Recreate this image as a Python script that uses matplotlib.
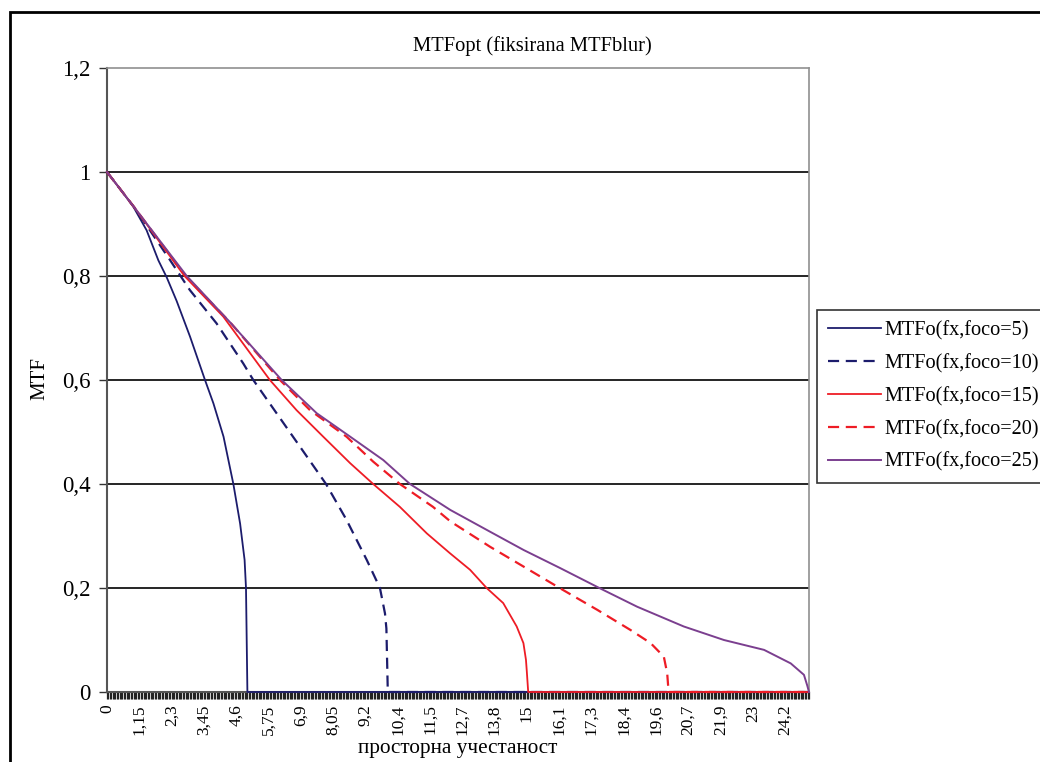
import matplotlib.pyplot as plt
from matplotlib.patches import Rectangle

plt.rcParams['font.family'] = ['Liberation Serif', 'DejaVu Serif']

# vrednosti procitane sa grafika (x = prostorna ucestanost)
x5 = [0, 0.5, 0.94, 1.41, 1.83, 2.13, 2.48, 2.96, 3.49, 3.79, 4.15, 4.5, 4.74, 4.9, 4.95, 5.0, 25]
y5 = [1, 0.965, 0.933, 0.888, 0.83, 0.797, 0.752, 0.683, 0.6, 0.555, 0.491, 0.4, 0.324, 0.254, 0.2, 0, 0]

x10 = [0, 1.0, 2.24, 2.95, 3.9, 4.85, 5.21, 6.04, 6.87, 7.8, 8.53, 9.25, 9.72, 9.9, 9.95, 10.0, 25]
y10 = [1, 0.93, 0.831, 0.773, 0.709, 0.632, 0.6, 0.536, 0.472, 0.4, 0.331, 0.254, 0.2, 0.151, 0.122, 0, 0]

x15 = [0, 1.0, 2.76, 4.14, 5.8, 6.75, 7.7, 8.66, 9.48, 10.43, 11.39, 12.21, 12.93, 13.52, 14.11,
       14.59, 14.83, 14.92, 14.95, 15.0, 25]
y15 = [1, 0.93, 0.8, 0.722, 0.6, 0.542, 0.491, 0.44, 0.4, 0.356, 0.305, 0.267, 0.235, 0.2, 0.171,
       0.126, 0.094, 0.062, 0.04, 0, 0]

x20 = [0, 1.0, 2.8, 4.4, 6.16, 7.23, 8.53, 9.48, 10.43, 11.61, 12.23, 13.65, 14.84, 16.15, 17.46,
       18.65, 19.36, 19.83, 19.95, 20.0, 25]
y20 = [1, 0.93, 0.8, 0.71, 0.6, 0.542, 0.491, 0.443, 0.4, 0.356, 0.328, 0.279, 0.241, 0.199, 0.158,
       0.119, 0.094, 0.068, 0.036, 0, 0]

x25 = [0, 1.0, 2.84, 4.4, 6.22, 7.47, 8.66, 9.84, 10.79, 12.23, 13.65, 14.84, 16.15, 17.57, 18.88,
       20.54, 21.97, 23.4, 24.35, 24.82, 24.94, 25]
y25 = [1, 0.93, 0.8, 0.71, 0.6, 0.536, 0.491, 0.446, 0.4, 0.35, 0.308, 0.273, 0.238, 0.199, 0.164,
       0.126, 0.1, 0.081, 0.055, 0.033, 0.012, 0.0]

xtick_labels = ['0', '1,15', '2,3', '3,45', '4,6', '5,75', '6,9', '8,05', '9,2', '10,4', '11,5',
                '12,7', '13,8', '15', '16,1', '17,3', '18,4', '19,6', '20,7', '21,9', '23', '24,2']
ytick_labels = ['0', '0,2', '0,4', '0,6', '0,8', '1', '1,2']

W, H = 1040, 762
fig = plt.figure(figsize=(W / 100, H / 100), dpi=100)
ax = fig.add_axes([107 / W, 1 - 692 / H, (809 - 107) / W, (692 - 68) / H])

navy = '#1c1c6c'
red = '#ee1c25'
purple = '#7b3f8f'

ax.plot(x5, y5, color=navy, lw=1.3, label='MTFo(fx,foco=5)', clip_on=False, zorder=3)
ax.plot(x10, y10, color=navy, lw=1.6, dashes=(5, 3), label='MTFo(fx,foco=10)', clip_on=False, zorder=3)
ax.plot(x15, y15, color=red, lw=1.3, label='MTFo(fx,foco=15)', clip_on=False, zorder=3)
ax.plot(x20, y20, color=red, lw=1.6, dashes=(5, 3), label='MTFo(fx,foco=20)', clip_on=False, zorder=3)
ax.plot(x25, y25, color=purple, lw=1.4, label='MTFo(fx,foco=25)', clip_on=False, zorder=3)

ax.set_xlim(0, 25)
ax.set_ylim(0, 1.2)

ax.set_yticks([0, 0.2, 0.4, 0.6, 0.8, 1.0, 1.2])
ax.set_yticklabels(ytick_labels, fontsize=16.5)
ax.set_xticks([i * 1.15 for i in range(len(xtick_labels))])
ax.set_xticklabels(xtick_labels, fontsize=12.5, rotation=90)
ax.set_xticks([i * 0.05 for i in range(501)], minor=True)
ax.tick_params(axis='y', direction='out', length=6, width=1, color='#333333', pad=6)
ax.tick_params(axis='x', which='both', direction='out', length=5, width=0.9, color='#222222', pad=4)

for y in [0.2, 0.4, 0.6, 0.8, 1.0]:
    ax.axhline(y, color='black', lw=1.2, zorder=1)

for s in ['top', 'right']:
    ax.spines[s].set_color('#909090')
    ax.spines[s].set_linewidth(1.2)
for s in ['left', 'bottom']:
    ax.spines[s].set_color('#555555')
    ax.spines[s].set_linewidth(1.5)

fig.text(532 / W, 1 - 46 / H, 'MTFopt (fiksirana MTFblur)', fontsize=14.8, ha='center', va='center')
fig.text(40 / W, 1 - 379 / H, 'MTF', fontsize=15, rotation=90, ha='center', va='center')
fig.text(458 / W, 1 - 749 / H, 'просторна учестаност', fontsize=15.3, ha='center', va='center')

leg = fig.legend(loc='upper left', bbox_to_anchor=(817 / W, 1 - 310 / H), fontsize=14.6,
                 frameon=True, fancybox=False, edgecolor='black', borderaxespad=0,
                 handlelength=2.6, handletextpad=0.2, labelspacing=0.66, borderpad=0.55)
leg.get_frame().set_linewidth(1.2)

fig.patches.append(Rectangle((10 / W, -0.05), 1.0, 1 - 12 / H + 0.05, transform=fig.transFigure,
                             fill=False, edgecolor='black', lw=2))

fig.savefig('out.png', dpi=100)
